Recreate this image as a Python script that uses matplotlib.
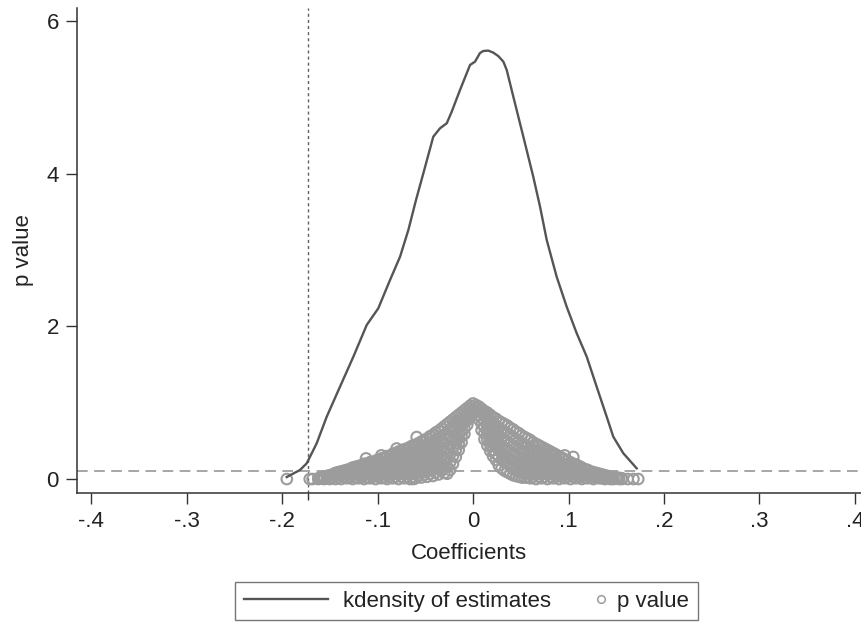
import matplotlib
matplotlib.use("Agg")
import matplotlib.pyplot as plt
from matplotlib.lines import Line2D
from matplotlib.legend_handler import HandlerBase

plt.rcParams['font.family'] = ['Liberation Sans', 'DejaVu Sans']

# Kernel density of estimates
kd_x = [-0.1951, -0.1812, -0.1741, -0.1707, -0.1637, -0.1532, -0.1393, -0.1253,
        -0.1113, -0.0992, -0.0869, -0.0764, -0.0677, -0.0597, -0.0520, -0.0416,
        -0.0346, -0.0275, -0.0223, -0.0136, -0.0031, 0.0021, 0.0073, 0.0108,
        0.0160, 0.0213, 0.0265, 0.0318, 0.0353, 0.0422, 0.0527, 0.0631,
        0.0702, 0.0772, 0.0876, 0.0981, 0.1086, 0.1191, 0.1295, 0.1400,
        0.1469, 0.1574, 0.1714]
kd_y = [0.026, 0.118, 0.206, 0.292, 0.468, 0.816, 1.209, 1.602,
        2.018, 2.236, 2.607, 2.912, 3.262, 3.655, 4.005, 4.484,
        4.594, 4.660, 4.812, 5.096, 5.424, 5.467, 5.580, 5.607,
        5.612, 5.585, 5.540, 5.467, 5.358, 5.009, 4.484, 3.960,
        3.567, 3.131, 2.650, 2.257, 1.909, 1.602, 1.209, 0.816,
        0.554, 0.337, 0.140]

# p value cloud
cloud_coef = [
    -0.195, -0.171, -0.168,
    -0.162, -0.159, -0.156, -0.153, -0.150, -0.147, -0.144, -0.141, -0.138, -0.135,
    -0.132, -0.129, -0.126, -0.123, -0.120, -0.117, -0.114, -0.111, -0.108, -0.105,
    -0.102, -0.099, -0.096, -0.093, -0.090, -0.087, -0.084, -0.081, -0.078, -0.075,
    -0.072, -0.069, -0.066, -0.063, -0.060, -0.057, -0.054, -0.051, -0.048, -0.045,
    -0.042, -0.039, -0.036, -0.033, -0.030, -0.027, -0.024, -0.021, -0.018, -0.015,
    -0.012, -0.009, -0.006, -0.003, 0.000,
    0.003, 0.006, 0.009, 0.012, 0.015, 0.018, 0.021, 0.024, 0.027, 0.030, 0.033,
    0.036, 0.039, 0.042, 0.045, 0.048, 0.051, 0.054, 0.057, 0.060, 0.063, 0.066,
    0.069, 0.072, 0.075, 0.078, 0.081, 0.084, 0.087, 0.090, 0.093, 0.096, 0.099,
    0.102, 0.105, 0.108, 0.111, 0.114, 0.117, 0.120, 0.123, 0.126, 0.129, 0.132,
    0.135, 0.138, 0.141, 0.144, 0.147, 0.150, 0.153, 0.156, 0.162, 0.168, 0.173,
]
cloud_pval = [
    [0.0], [0.0], [0.0],
    [0.0, 0.01], [0.005, 0.02], [0.0, 0.03], [0.01, 0.04], [0.0, 0.05],
    [0.02, 0.06], [0.0, 0.04, 0.08], [0.02, 0.07, 0.09], [0.0, 0.05, 0.10],
    [0.03, 0.08, 0.11],
    [0.01, 0.06, 0.12], [0.03, 0.08, 0.13], [0.0, 0.05, 0.10, 0.15],
    [0.02, 0.08, 0.13, 0.16], [0.01, 0.06, 0.12, 0.17], [0.03, 0.08, 0.14, 0.18],
    [0.0, 0.05, 0.11, 0.16, 0.20], [0.02, 0.08, 0.14, 0.20],
    [0.01, 0.07, 0.13, 0.18, 0.22], [0.03, 0.09, 0.15, 0.21],
    [0.0, 0.05, 0.11, 0.17, 0.24], [0.03, 0.09, 0.15, 0.22, 0.25],
    [0.01, 0.07, 0.13, 0.20, 0.27], [0.02, 0.08, 0.14, 0.21, 0.28],
    [0.0, 0.05, 0.11, 0.17, 0.24, 0.30], [0.03, 0.09, 0.16, 0.23, 0.30],
    [0.01, 0.07, 0.14, 0.20, 0.27, 0.33], [0.03, 0.10, 0.16, 0.23, 0.30, 0.34],
    [0.0, 0.06, 0.12, 0.19, 0.26, 0.32, 0.36], [0.03, 0.10, 0.17, 0.24, 0.31, 0.37],
    [0.01, 0.07, 0.14, 0.21, 0.28, 0.34, 0.39], [0.03, 0.10, 0.16, 0.23, 0.30, 0.37, 0.40],
    [0.0, 0.06, 0.12, 0.19, 0.26, 0.33, 0.42], [0.03, 0.10, 0.18, 0.25, 0.32, 0.39, 0.44],
    [0.01, 0.08, 0.15, 0.22, 0.29, 0.36, 0.45], [0.04, 0.12, 0.20, 0.28, 0.36, 0.44, 0.47],
    [0.02, 0.09, 0.16, 0.24, 0.32, 0.40, 0.49], [0.06, 0.14, 0.22, 0.31, 0.40, 0.48, 0.51],
    [0.03, 0.10, 0.18, 0.26, 0.35, 0.44, 0.53], [0.07, 0.16, 0.25, 0.34, 0.43, 0.52, 0.56],
    [0.04, 0.12, 0.21, 0.30, 0.39, 0.48, 0.58], [0.09, 0.18, 0.28, 0.38, 0.48, 0.57, 0.61],
    [0.06, 0.14, 0.23, 0.33, 0.43, 0.53, 0.63], [0.11, 0.21, 0.31, 0.42, 0.52, 0.62, 0.66],
    [0.08, 0.17, 0.27, 0.37, 0.47, 0.58, 0.69], [0.07, 0.16, 0.28, 0.40, 0.51, 0.61, 0.72],
    [0.12, 0.22, 0.33, 0.44, 0.55, 0.65, 0.75], [0.20, 0.30, 0.41, 0.51, 0.61, 0.70, 0.78],
    [0.29, 0.38, 0.47, 0.56, 0.65, 0.73, 0.81], [0.38, 0.46, 0.54, 0.62, 0.70, 0.77, 0.84],
    [0.48, 0.56, 0.63, 0.71, 0.79, 0.87], [0.59, 0.66, 0.74, 0.82, 0.90],
    [0.71, 0.77, 0.83, 0.88, 0.93], [0.80, 0.86, 0.92, 0.96], [0.90, 0.95, 0.99],
    [0.88, 0.93, 0.97], [0.78, 0.84, 0.90, 0.95], [0.64, 0.72, 0.80, 0.87, 0.92],
    [0.52, 0.60, 0.68, 0.76, 0.83, 0.89], [0.44, 0.52, 0.60, 0.68, 0.76, 0.83, 0.87],
    [0.37, 0.45, 0.53, 0.61, 0.69, 0.77, 0.84], [0.30, 0.38, 0.47, 0.56, 0.65, 0.74, 0.81],
    [0.25, 0.33, 0.42, 0.51, 0.60, 0.70, 0.79], [0.18, 0.29, 0.38, 0.48, 0.57, 0.67, 0.76],
    [0.14, 0.25, 0.34, 0.44, 0.54, 0.64, 0.74], [0.11, 0.22, 0.31, 0.41, 0.51, 0.62, 0.72],
    [0.09, 0.20, 0.29, 0.39, 0.49, 0.60, 0.70], [0.07, 0.17, 0.26, 0.36, 0.46, 0.57, 0.67],
    [0.05, 0.15, 0.24, 0.34, 0.44, 0.55, 0.65], [0.04, 0.13, 0.22, 0.32, 0.42, 0.52, 0.62],
    [0.03, 0.12, 0.21, 0.30, 0.40, 0.50, 0.60], [0.02, 0.10, 0.19, 0.28, 0.37, 0.47, 0.57],
    [0.02, 0.09, 0.17, 0.26, 0.35, 0.45, 0.55], [0.02, 0.08, 0.15, 0.24, 0.33, 0.43, 0.53],
    [0.01, 0.07, 0.14, 0.22, 0.31, 0.41, 0.51], [0.03, 0.09, 0.16, 0.24, 0.33, 0.43, 0.48],
    [0.0, 0.06, 0.12, 0.19, 0.27, 0.36, 0.46], [0.03, 0.10, 0.16, 0.23, 0.31, 0.38, 0.44],
    [0.01, 0.07, 0.13, 0.20, 0.28, 0.35, 0.42], [0.03, 0.09, 0.15, 0.22, 0.29, 0.36, 0.40],
    [0.0, 0.06, 0.12, 0.18, 0.25, 0.32, 0.38], [0.03, 0.09, 0.15, 0.21, 0.27, 0.32, 0.36],
    [0.01, 0.06, 0.12, 0.18, 0.24, 0.30, 0.34], [0.03, 0.08, 0.14, 0.20, 0.26, 0.32],
    [0.0, 0.05, 0.11, 0.17, 0.23, 0.30], [0.03, 0.09, 0.15, 0.21, 0.28],
    [0.01, 0.06, 0.12, 0.19, 0.26, 0.31], [0.03, 0.08, 0.13, 0.18, 0.24],
    [0.0, 0.05, 0.10, 0.16, 0.22], [0.03, 0.08, 0.14, 0.20, 0.29],
    [0.01, 0.06, 0.12, 0.19], [0.03, 0.08, 0.13, 0.17], [0.0, 0.05, 0.10, 0.15],
    [0.02, 0.07, 0.13], [0.01, 0.06, 0.12], [0.02, 0.06, 0.10], [0.0, 0.04, 0.09],
    [0.02, 0.05, 0.08], [0.01, 0.04, 0.07],
    [0.01, 0.03, 0.06], [0.0, 0.03, 0.05], [0.01, 0.04], [0.0, 0.03], [0.0, 0.02],
    [0.01, 0.02], [0.0, 0.015], [0.0, 0.01], [0.0], [0.0], [0.0],
]
outlier_coef = [-0.112, -0.096, -0.080, -0.059, -0.017, -0.0625]
outlier_pval = [0.27, 0.31, 0.40, 0.55, 0.51, 0.0]

x_ticks = [-0.4, -0.3, -0.2, -0.1, 0.0, 0.1, 0.2, 0.3, 0.4]
x_labels = ['-.4', '-.3', '-.2', '-.1', '0', '.1', '.2', '.3', '.4']
y_ticks = [0, 2, 4, 6]
vline_x = -0.173
hline_y = 0.1

coef = [b for b, ps in zip(cloud_coef, cloud_pval) for _ in ps] + outlier_coef
pval = [p for ps in cloud_pval for p in ps] + outlier_pval

FS = 16
DARK = '#555555'
GREY = '#9c9c9c'

fig = plt.figure(figsize=(8.61, 6.23), dpi=100)
ax = fig.add_axes([77 / 861, 1 - 493 / 623, 1 - 77 / 861, (493 - 8) / 623])

ax.scatter(coef, pval, s=58, facecolors='none', edgecolors=GREY,
           linewidths=1.5, zorder=2)
ax.plot(kd_x, kd_y, color=DARK, lw=1.7, zorder=3)
ax.axvline(vline_x, color='#606060', lw=1.0, dashes=(2.2, 2.2), zorder=1)
ax.axhline(hline_y, color='#a6a6a6', lw=1.4, dashes=(5.5, 3.3), zorder=1)

ax.set_xlim(-0.4147, 0.4063)
ax.set_ylim(-0.183, 6.17)
ax.set_xticks(x_ticks)
ax.set_xticklabels(x_labels)
ax.set_xticks([vline_x], minor=True)
ax.set_yticks(y_ticks)
ax.tick_params(axis='both', which='major', length=8, width=1, color='#333333',
               labelsize=FS, pad=5, labelcolor='#222222')
ax.tick_params(axis='x', which='minor', length=5, width=1, color='#333333')
for s in ['top', 'right']:
    ax.spines[s].set_visible(False)
for s in ['left', 'bottom']:
    ax.spines[s].set_color('#333333')
    ax.spines[s].set_linewidth(1.1)

ax.set_xlabel('Coefficients', fontsize=FS, color='#222222', labelpad=8)
ax.set_ylabel('p value', fontsize=FS, color='#222222', labelpad=9)


class RightMarkerHandler(HandlerBase):
    def create_artists(self, legend, orig_handle, xdescent, ydescent, width,
                       height, fontsize, trans):
        m = Line2D([width - xdescent - 1], [(height - ydescent) / 2], ls='none',
                   marker='o', ms=5.5, mfc='none', mec=GREY, mew=1.1)
        m.set_transform(trans)
        return [m]


marker_handle = Line2D([], [], ls='none', marker='o', mfc='none', mec=GREY)
handles = [Line2D([], [], color=DARK, lw=1.7), marker_handle]
leg = fig.legend(handles, ['kdensity of estimates', 'p value'], ncol=2,
                 loc='center', bbox_to_anchor=(466.5 / 861, 1 - 601 / 623),
                 fontsize=FS, frameon=True, fancybox=False, edgecolor='#555555',
                 handlelength=3.8, handletextpad=0.68, columnspacing=-1.5,
                 borderpad=0.4, labelcolor='#222222',
                 handler_map={marker_handle: RightMarkerHandler()})
leg.get_frame().set_linewidth(1.0)

fig.savefig('out.png', dpi=100)
